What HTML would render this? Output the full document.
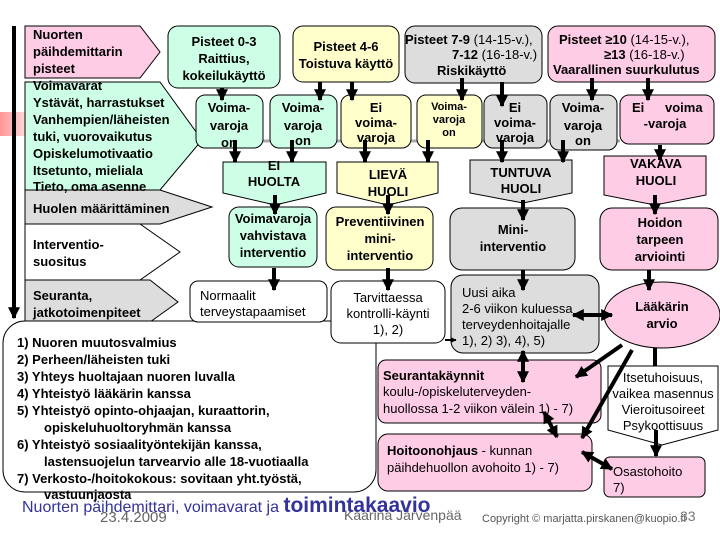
<!DOCTYPE html>
<html><head><meta charset="utf-8"><style>
html,body{margin:0;padding:0;background:#fff;width:720px;height:540px;overflow:hidden}
svg{display:block}
text{font-family:"Liberation Sans",sans-serif;fill:#000}
.b{font-weight:bold;font-size:13px}
.n{font-size:13px}
.c{text-anchor:middle}
</style></head><body>
<svg width="720" height="540" viewBox="0 0 720 540" xmlns="http://www.w3.org/2000/svg">
<defs>
<marker id="a" viewBox="0 0 10 10" refX="9" refY="5" markerWidth="3" markerHeight="3" orient="auto-start-reverse"><path d="M0,0L10,5L0,10z" fill="#000"/></marker>
<linearGradient id="rg" x1="0" x2="1"><stop offset="0" stop-color="#f66" stop-opacity="0.7"/><stop offset="1" stop-color="#f66" stop-opacity="0"/></linearGradient>
</defs>
<rect x="0" y="112" width="40" height="24" fill="url(#rg)"/>
<line x1="262" y1="141" x2="620" y2="141" stroke="#aaa" stroke-width="3"/>

<!-- left pentagons -->
<polygon points="25,26 140,26 160,52 140,78 25,78" fill="#ffcce6" stroke="#000"/>
<polygon points="25,82 160,82 202,140 160,190 25,190" fill="#ccffe6" stroke="#000"/>
<polygon points="25,190 160,190 212,207 160,224 25,224" fill="#dddddd" stroke="#000"/>
<polygon points="25,224 140,224 180,252 140,280 25,280" fill="#fff" stroke="#000"/>
<polygon points="25,280 150,280 178,302 150,322 25,322" fill="#dddddd" stroke="#000"/>
<line x1="14" y1="26" x2="14" y2="318" stroke="#000" stroke-width="4" marker-end="url(#a)"/>
<text class="b" x="33" y="39">Nuorten</text>
<text class="b" x="33" y="56">päihdemittarin</text>
<text class="b" x="33" y="73">pisteet</text>
<text class="b" x="33" y="90">Voimavarat</text>
<text class="b" x="33" y="107">Ystävät, harrastukset</text>
<text class="b" x="33" y="124">Vanhempien/läheisten</text>
<text class="b" x="33" y="141"> tuki, vuorovaikutus</text>
<text class="b" x="33" y="158">Opiskelumotivaatio</text>
<text class="b" x="33" y="175">Itsetunto, mieliala</text>
<text class="b" x="33" y="191">Tieto, oma asenne</text>
<text class="b" x="33" y="213" fill="#000">Huolen määrittäminen</text>
<text class="b" x="33" y="249">Interventio-</text>
<text class="b" x="33" y="266">suositus</text>
<text class="b" x="33" y="300">Seuranta,</text>
<text class="b" x="33" y="317">jatkotoimenpiteet</text>

<!-- big list box -->
<rect x="3" y="321" width="373" height="171" rx="22" fill="#fff" stroke="#000"/>
<g class="b">
<text class="b" x="17" y="347">1) Nuoren muutosvalmius</text>
<text class="b" x="17" y="364">2) Perheen/läheisten tuki</text>
<text class="b" x="17" y="381">3) Yhteys huoltajaan nuoren luvalla</text>
<text class="b" x="17" y="398">4) Yhteistyö lääkärin kanssa</text>
<text class="b" x="17" y="415">5) Yhteistyö opinto-ohjaajan, kuraattorin,</text>
<text class="b" x="44" y="432">opiskeluhuoltoryhmän kanssa</text>
<text class="b" x="17" y="449">6) Yhteistyö sosiaalityöntekijän kanssa,</text>
<text class="b" x="44" y="466">lastensuojelun tarvearvio alle 18-vuotiaalla</text>
<text class="b" x="17" y="483">7) Verkosto-/hoitokokous: sovitaan yht.työstä,</text>
<text class="b" x="44" y="499">vastuunjaosta</text>
</g>

<!-- top boxes -->
<rect x="168" y="26" width="112" height="62" rx="10" fill="#ccffe6" stroke="#000"/>
<text class="b c" x="224" y="46">Pisteet 0-3</text>
<text class="b c" x="224" y="63">Raittius,</text>
<text class="b c" x="224" y="80">kokeilukäyttö</text>
<rect x="293" y="26" width="106" height="56" rx="10" fill="#ffffcc" stroke="#000"/>
<text class="b c" x="346" y="51">Pisteet 4-6</text>
<text class="b c" x="346" y="68">Toistuva käyttö</text>
<rect x="405" y="26" width="137" height="57" rx="10" fill="#dddddd" stroke="#000"/>
<text x="405" y="44" font-size="13"><tspan font-weight="bold">Pisteet 7-9</tspan> (14-15-v.),</text>
<text x="452" y="59" font-size="13"><tspan font-weight="bold">7-12</tspan> (16-18-v.)</text>
<text class="b" x="437" y="75">Riskikäyttö</text>
<rect x="548" y="26" width="167" height="56" rx="10" fill="#ffcce6" stroke="#000"/>
<text x="559" y="44" font-size="13"><tspan font-weight="bold">Pisteet ≥10</tspan> (14-15-v.),</text>
<text x="604" y="59" font-size="13"><tspan font-weight="bold">≥13</tspan> (16-18-v.)</text>
<text class="b" x="553" y="74">Vaarallinen suurkulutus</text>

<!-- row 2 -->
<rect x="196" y="95" width="67" height="53" rx="9" fill="#ccffe6" stroke="#000"/>
<text class="b c" x="229" y="112">Voima-</text><text class="b c" x="229" y="130">varoja</text><text class="b c" x="229" y="147">on</text>
<rect x="270" y="95" width="67" height="53" rx="9" fill="#ccffe6" stroke="#000"/>
<text class="b c" x="303" y="112">Voima-</text><text class="b c" x="303" y="130">varoja</text><text class="b c" x="303" y="145">on</text>
<rect x="341" y="95" width="70" height="53" rx="9" fill="#ffffcc" stroke="#000"/>
<text class="b c" x="376" y="112">Ei</text><text class="b c" x="376" y="127">voima-</text><text class="b c" x="376" y="142">varoja</text>
<rect x="417" y="95" width="65" height="53" rx="9" fill="#ffffcc" stroke="#000"/>
<text class="c" x="449" y="110" font-size="11" font-weight="bold">Voima-</text><text class="c" x="449" y="123" font-size="11" font-weight="bold">varoja</text><text class="c" x="449" y="136" font-size="11" font-weight="bold">on</text>
<rect x="484" y="95" width="63" height="53" rx="9" fill="#dddddd" stroke="#000"/>
<text class="b c" x="515" y="112">Ei</text><text class="b c" x="515" y="127">voima-</text><text class="b c" x="515" y="142">varoja</text>
<rect x="550" y="95" width="67" height="55" rx="9" fill="#dddddd" stroke="#000"/>
<text class="b c" x="583" y="112">Voima-</text><text class="b c" x="583" y="130">varoja</text><text class="b c" x="583" y="145">on</text>
<rect x="620" y="95" width="94" height="49" rx="9" fill="#ffcce6" stroke="#000"/>
<text class="b" x="632" y="112">Ei</text><text class="b" x="665" y="112">voima</text><text class="b c" x="665" y="128">-varoja</text>

<!-- row 3 -->
<polygon points="223,162 326,162 326,193 275,205 223,193" fill="#ccffe6" stroke="#000"/>
<text class="b c" x="274" y="170">EI</text><text class="b c" x="274" y="186">HUOLTA</text>
<polygon points="337,162 438,162 438,193 388,205 337,193" fill="#ffffcc" stroke="#000"/>
<text class="b c" x="388" y="179">LIEVÄ</text><text class="b c" x="388" y="196">HUOLI</text>
<polygon points="470,160 572,160 572,193 523,203 470,193" fill="#dddddd" stroke="#000"/>
<text class="b c" x="521" y="177">TUNTUVA</text><text class="b c" x="521" y="193">HUOLI</text>
<polygon points="604,156 706,156 706,195 655,205 604,195" fill="#ffcce6" stroke="#000"/>
<text class="b c" x="656" y="168">VAKAVA</text><text class="b c" x="656" y="185">HUOLI</text>

<!-- row 4 -->
<rect x="229" y="207" width="88" height="60" rx="10" fill="#ccffe6" stroke="#000"/>
<text class="b c" x="273" y="223">Voimavaroja</text><text class="b c" x="273" y="240">vahvistava</text><text class="b c" x="273" y="257">interventio</text>
<rect x="326" y="207" width="107" height="63" rx="10" fill="#ffffcc" stroke="#000"/>
<text class="b c" x="380" y="226">Preventiivinen</text><text class="b c" x="380" y="243">mini-</text><text class="b c" x="380" y="260">interventio</text>
<rect x="450" y="208" width="125" height="62" rx="12" fill="#dddddd" stroke="#000"/>
<text class="b c" x="513" y="234">Mini-</text><text class="b c" x="513" y="251">interventio</text>
<rect x="600" y="208" width="118" height="62" rx="12" fill="#ffcce6" stroke="#000"/>
<text class="b c" x="660" y="227">Hoidon</text><text class="b c" x="660" y="244">tarpeen</text><text class="b c" x="660" y="261">arviointi</text>

<!-- row 5 -->
<rect x="190" y="281" width="137" height="41" rx="8" fill="#fff" stroke="#000"/>
<text class="n" x="200" y="300">Normaalit</text><text class="n" x="200" y="316">terveystapaamiset</text>
<rect x="331" y="281" width="114" height="62" rx="10" fill="#fff" stroke="#000"/>
<text class="n c" x="388" y="302">Tarvittaessa</text><text class="n c" x="388" y="318">kontrolli-käynti</text><text class="n c" x="388" y="334">1), 2)</text>
<rect x="451" y="275" width="148" height="78" rx="12" fill="#dddddd" stroke="#000"/>
<text class="n" x="462" y="297">Uusi aika</text><text class="n" x="462" y="313">2-6 viikon kuluessa</text><text class="n" x="462" y="329">terveydenhoitajalle</text><text class="n" x="462" y="345">1), 2) 3), 4), 5)</text>
<ellipse cx="662" cy="315" rx="58" ry="33" fill="#ffcce6" stroke="#000"/>
<text class="b c" x="662" y="311">Lääkärin</text><text class="b c" x="662" y="328">arvio</text>

<rect x="378" y="360" width="223" height="63" rx="8" fill="#ffcce6" stroke="#000"/>
<text class="b" x="383" y="380">Seurantakäynnit</text>
<text class="n" x="383" y="396">koulu-/opiskeluterveyden-</text>
<text class="n" x="383" y="413">huollossa 1-2 viikon välein 1) - 7)</text>
<rect x="378" y="434" width="214" height="57" rx="10" fill="#ffcce6" stroke="#000"/>
<text x="387" y="455" font-size="13"><tspan font-weight="bold">Hoitoonohjaus</tspan> - kunnan</text>
<text class="n" x="387" y="472">päihdehuollon avohoito 1) - 7)</text>
<polygon points="608,366 718,366 718,430 662,445 608,430" fill="#fff" stroke="#000"/>
<text class="n c" x="663" y="382">Itsetuhoisuus,</text><text class="n c" x="663" y="398">vaikea masennus</text><text class="n c" x="663" y="414">Vieroitusoireet</text><text class="n c" x="663" y="430">Psykoottisuus</text>
<rect x="604" y="457" width="101" height="40" rx="6" fill="#ffcce6" stroke="#000"/>
<text class="n" x="613" y="476">Osastohoito</text><text class="n" x="613" y="492">7)</text>

<!-- arrows -->
<g stroke="#000" stroke-width="4" fill="none" marker-end="url(#a)">
<line x1="222" y1="88" x2="222" y2="100"/>
<line x1="320" y1="82" x2="320" y2="100"/>
<line x1="352" y1="82" x2="352" y2="100"/>
<line x1="462" y1="78" x2="462" y2="100"/>
<line x1="502" y1="82" x2="502" y2="106"/>
<line x1="592" y1="78" x2="592" y2="100"/>
<line x1="648" y1="78" x2="648" y2="100"/>
<line x1="235" y1="140" x2="235" y2="162"/>
<line x1="292" y1="140" x2="292" y2="162"/>
<line x1="365" y1="140" x2="365" y2="162"/>
<line x1="428" y1="140" x2="428" y2="162"/>
<line x1="502" y1="140" x2="502" y2="162"/>
<line x1="563" y1="140" x2="563" y2="162"/>
<line x1="660" y1="145" x2="660" y2="160"/>
<line x1="275" y1="195" x2="275" y2="214"/>
<line x1="388" y1="195" x2="388" y2="214"/>
<line x1="523" y1="200" x2="523" y2="220"/>
<line x1="655" y1="195" x2="655" y2="214"/>
<line x1="274" y1="268" x2="274" y2="290"/>
<line x1="388" y1="268" x2="388" y2="290"/>
<line x1="523" y1="270" x2="523" y2="290"/>
<line x1="649" y1="270" x2="649" y2="290"/>
<line x1="622" y1="345" x2="576" y2="377"/>
<line x1="632" y1="350" x2="582" y2="438"/>
<line x1="656" y1="430" x2="656" y2="456"/>
</g>
<g stroke="#000" stroke-width="4" fill="none" marker-end="url(#a)" marker-start="url(#a)">
<line x1="573" y1="315" x2="612" y2="315"/>
<line x1="523" y1="351" x2="523" y2="382"/>
<line x1="544" y1="412" x2="557" y2="437"/>
<line x1="582" y1="452" x2="612" y2="469"/>
</g>
<line x1="655" y1="348" x2="655" y2="366" stroke="#000" stroke-width="4"/>
<line x1="445" y1="340" x2="456" y2="340" stroke="#000" stroke-width="2" marker-end="url(#a)"/>

<!-- footer -->
<text x="100" y="522" font-size="15" fill="#666" style="fill:#666">23.4.2009</text>
<text x="344" y="520" font-size="14" style="fill:#666">Kaarina Järvenpää</text>
<text x="482" y="522" font-size="11" style="fill:#555">Copyright © marjatta.pirskanen@kuopio.fi</text>
<text x="680" y="521" font-size="14" style="fill:#777">33</text>
<text x="22" y="512" font-size="16" style="fill:#333399">Nuorten päihdemittari, voimavarat ja <tspan font-size="21" font-weight="bold">toimintakaavio</tspan></text>
</svg>
</body></html>
